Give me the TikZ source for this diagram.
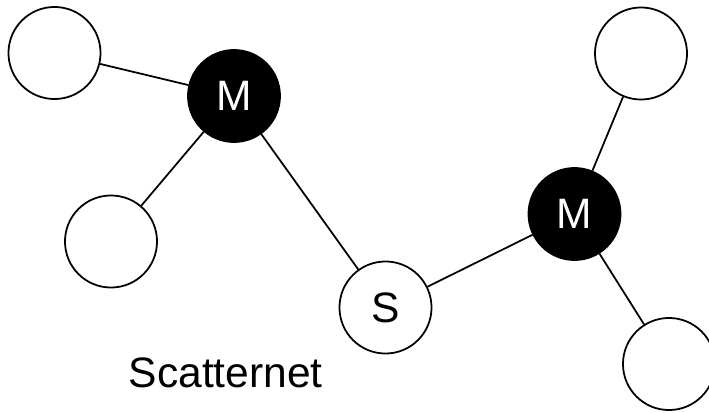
\documentclass[tikz,border=0pt]{standalone}
\usepackage{fontspec}
\setmainfont{Liberation Sans}
\usetikzlibrary{positioning}

\tikzset{
	dev/.style={draw, circle, line width=0.5pt, minimum size=0.92cm, inner sep=0pt},
	master/.style={dev, fill=black, text=white},
	slave/.style={dev, fill=white}
}

\begin{document}
\begin{tikzpicture}[x=0.01cm,y=-0.01cm,font=\fontsize{12.1}{14}\selectfont]
		\useasboundingbox (0,0) rectangle (709,412);

		\node[master] (m1) at (234,96) {M};
		\node[master] (m2) at (574.5,214) {M};
		\node[slave] (s) at (385.5,307.5) {S};

		\node[dev] (tl) at (54.5,53) {};
		\node[dev] (ll) at (111,241.5) {};
		\node[dev] (tr) at (641,53.5) {};
		\node[dev] (br) at (669,364) {};

		\node[anchor=base west, inner sep=0pt] (name) at (128,387) {Scatternet};

		\draw[line width=0.5pt] (tl) -- (m1)
		(m1) -- (ll)
		(m1) -- (s)
		(s) -- (m2)
		(m2) -- (tr)
		(m2) -- (br);

	\end{tikzpicture}
\end{document}
